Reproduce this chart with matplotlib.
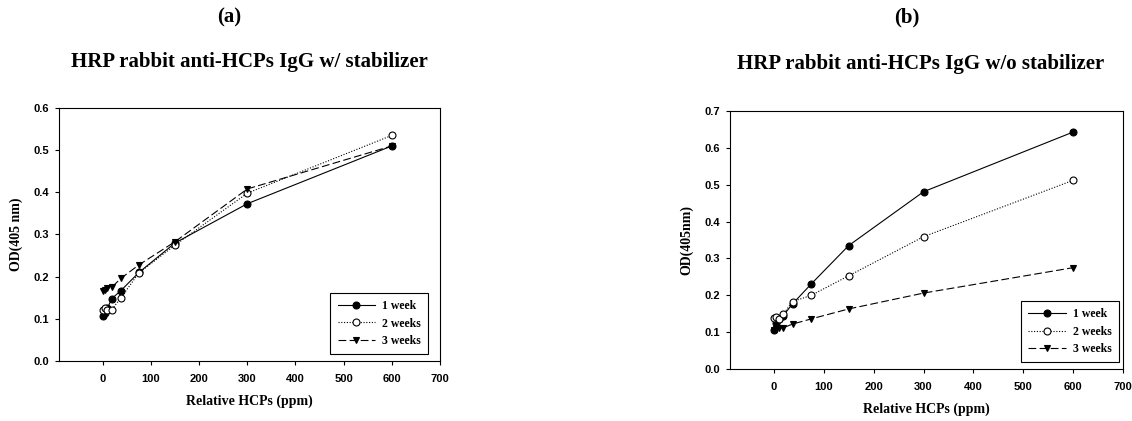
import matplotlib
matplotlib.use('Agg')
import matplotlib.pyplot as plt

# data
hcp_ppm = [0, 4.69, 9.38, 18.75, 37.5, 75, 150, 300, 600]
series_labels = ['1 week', '2 weeks', '3 weeks']

# (a) with stabilizer
stab_1wk = [0.107, 0.115, 0.125, 0.148, 0.167, 0.210, 0.280, 0.373, 0.510]
stab_2wk = [0.120, 0.126, 0.122, 0.122, 0.150, 0.209, 0.275, 0.398, 0.535]
stab_3wk = [0.165, 0.168, 0.172, 0.175, 0.196, 0.228, 0.283, 0.408, 0.510]

# (b) without stabilizer
nostab_1wk = [0.105, 0.125, 0.135, 0.145, 0.177, 0.231, 0.335, 0.481, 0.643]
nostab_2wk = [0.138, 0.140, 0.135, 0.149, 0.183, 0.200, 0.253, 0.359, 0.512]
nostab_3wk = [0.105, 0.108, 0.110, 0.112, 0.122, 0.136, 0.163, 0.206, 0.275]

SERIF = 'Liberation Serif'
SANS = 'Liberation Sans'

fig = plt.figure(figsize=(11.32, 4.21), dpi=100)
fig.patch.set_facecolor('white')

styles = [
    dict(linestyle='-', marker='o', markerfacecolor='black'),
    dict(linestyle=(0, (1, 1.5)), marker='o', markerfacecolor='white'),
    dict(linestyle=(0, (7, 3)), marker='v', markerfacecolor='black'),
]


def panel(rect, data, xmin, ymax, ylabel, legend_anchor):
    ax = fig.add_axes(rect)
    for vals, lab, st in zip(data, series_labels, styles):
        ax.plot(hcp_ppm, vals, color='black', lw=0.8, markersize=5,
                markeredgecolor='black', markeredgewidth=0.8, label=lab, **st)
    ax.set_xlim(xmin, 700)
    ax.set_ylim(0, ymax)
    nticks = int(round(ymax * 10)) + 1
    ax.set_xticks(range(0, 701, 100))
    ax.set_yticks([i / 10 for i in range(nticks)])
    ax.set_yticklabels([f'{i / 10:.1f}' for i in range(nticks)])
    ax.tick_params(direction='out', length=3, width=0.8, labelsize=8, pad=6)
    ax.tick_params(axis='y', pad=4)
    for lab in ax.get_xticklabels() + ax.get_yticklabels():
        lab.set_fontfamily(SANS)
        lab.set_fontweight('bold')
    for sp in ax.spines.values():
        sp.set_linewidth(0.8)
    ax.set_xlabel('Relative HCPs (ppm)', fontsize=10, fontweight='bold',
                  family=SERIF, labelpad=8)
    ax.set_ylabel(ylabel, fontsize=10, fontweight='bold', family=SERIF, labelpad=8)
    leg = ax.legend(loc='lower right', bbox_to_anchor=legend_anchor, borderaxespad=0,
                    fancybox=False, framealpha=1, edgecolor='black',
                    prop={'family': SERIF, 'weight': 'bold', 'size': 8.5},
                    handlelength=3.2, labelspacing=0.45, borderpad=0.6,
                    handletextpad=0.6)
    leg.get_frame().set_linewidth(0.8)
    return ax


panel([0.0521, 0.1425, 0.3366, 0.601],
      [stab_1wk, stab_2wk, stab_3wk], -91, 0.6, 'OD(405 nm)', (0.969, 0.028))
panel([0.6449, 0.1235, 0.3472, 0.6128],
      [nostab_1wk, nostab_2wk, nostab_3wk], -88, 0.7, 'OD(405nm)', (0.990, 0.027))

# panel letters and titles
fig.text(229 / 1132, 1 - 17 / 421, '(a)', ha='center', va='center',
         fontsize=15, fontweight='bold', family=SERIF)
fig.text(907 / 1132, 1 - 17 / 421, '(b)', ha='center', va='center',
         fontsize=15, fontweight='bold', family=SERIF)
fig.text(249 / 1132, 1 - 62 / 421, 'HRP rabbit anti-HCPs IgG w/ stabilizer',
         ha='center', va='center', fontsize=15, fontweight='bold', family=SERIF)
fig.text(921 / 1132, 1 - 64 / 421, 'HRP rabbit anti-HCPs IgG w/o stabilizer',
         ha='center', va='center', fontsize=15, fontweight='bold', family=SERIF)

fig.savefig('out.png', dpi=100, facecolor='white')
